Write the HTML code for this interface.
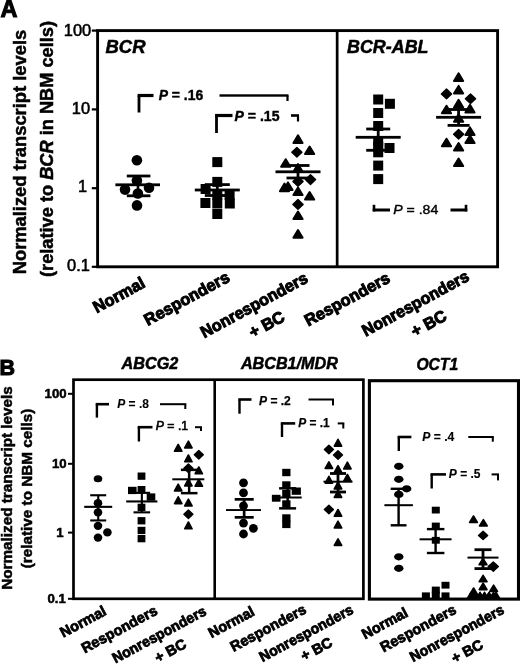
<!DOCTYPE html>
<html><head><meta charset="utf-8"><title>Figure</title>
<style>
html,body{margin:0;padding:0;background:#fff;}
svg{display:block;font-family:"Liberation Sans",Arial,sans-serif;fill:#000;}
</style></head><body>
<svg width="520" height="666" viewBox="0 0 520 666">
<rect x="0" y="0" width="520" height="666" fill="#fff"/>
<text x="0.5" y="17.3" font-size="23.5" font-weight="bold" font-style="normal" text-anchor="start" stroke="#000" stroke-width="1.0">A</text>
<rect x="97.6" y="30.6" width="400.0" height="236.20000000000002" fill="none" stroke="#000" stroke-width="2.9"/>
<rect x="335.8" y="30.6" width="2.7" height="236.2"/>
<rect x="91.8" y="29.5" width="5.7" height="2.2"/>
<rect x="91.8" y="108.3" width="5.7" height="2.2"/>
<rect x="91.8" y="187.1" width="5.7" height="2.2"/>
<rect x="91.8" y="265.7" width="5.7" height="2.2"/>
<text x="91.2" y="35.6" font-size="16.4" font-weight="normal" font-style="normal" text-anchor="end" stroke="#000" stroke-width="0.55">100</text>
<text x="90.0" y="113.5" font-size="16.4" font-weight="normal" font-style="normal" text-anchor="end" stroke="#000" stroke-width="0.55">10</text>
<text x="87.0" y="192.4" font-size="16.4" font-weight="normal" font-style="normal" text-anchor="end" stroke="#000" stroke-width="0.55">1</text>
<text x="89.9" y="271.3" font-size="16.4" font-weight="normal" font-style="normal" text-anchor="end" stroke="#000" stroke-width="0.55">0.1</text>
<text x="26.0" y="274.3" font-size="17.8" font-weight="bold" font-style="normal" text-anchor="start" stroke="#000" stroke-width="0.5" transform="rotate(-90 26.0 274.3)" textLength="244.5" lengthAdjust="spacingAndGlyphs">Normalized transcript levels</text>
<text x="53" y="277" font-size="17.8" font-weight="bold" stroke="#000" stroke-width="0.5" textLength="256" lengthAdjust="spacingAndGlyphs" transform="rotate(-90 53 277)">(relative to <tspan font-style="italic">BCR</tspan> in NBM cells)</text>
<text x="105.5" y="53.4" font-size="17.8" font-weight="bold" font-style="italic" text-anchor="start" stroke="#000" stroke-width="0.5" textLength="40" lengthAdjust="spacingAndGlyphs">BCR</text>
<text x="347.0" y="53.4" font-size="17.8" font-weight="bold" font-style="italic" text-anchor="start" stroke="#000" stroke-width="0.5" textLength="81.5" lengthAdjust="spacingAndGlyphs">BCR-ABL</text>
<rect x="137.6" y="95.5" width="2.8" height="17.0"/>
<rect x="137.6" y="93.9" width="15.9" height="3.2"/>
<text x="158.7" y="100.3" font-size="14" font-weight="bold" stroke="#000" stroke-width="0.4" textLength="44.5" lengthAdjust="spacingAndGlyphs"><tspan font-style="italic">P</tspan> = .16</text>
<rect x="219.5" y="94.3" width="69.0" height="2.4"/>
<rect x="286.4" y="95.5" width="2.2" height="5.5"/>
<rect x="215.1" y="115.5" width="2.8" height="17.5"/>
<rect x="215.1" y="113.9" width="17.4" height="3.2"/>
<text x="234.5" y="121.1" font-size="14" font-weight="bold" stroke="#000" stroke-width="0.4" textLength="45" lengthAdjust="spacingAndGlyphs"><tspan font-style="italic">P</tspan> = .15</text>
<rect x="291.0" y="114.2" width="8.0" height="2.6"/>
<rect x="296.9" y="115.5" width="2.2" height="6.0"/>
<rect x="372.7" y="204.8" width="2.6" height="6.6"/>
<rect x="372.7" y="208.5" width="17.3" height="3.0"/>
<text x="393.3" y="214.0" font-size="13.2" font-weight="normal" stroke="#000" stroke-width="0.4" textLength="45" lengthAdjust="spacingAndGlyphs"><tspan font-style="italic">P</tspan> = .84</text>
<rect x="450.5" y="208.5" width="16.8" height="3.0"/>
<rect x="464.7" y="204.8" width="2.6" height="6.6"/>
<ellipse cx="136.9" cy="160.2" rx="5.3" ry="5.3"/>
<ellipse cx="136.9" cy="180.4" rx="5.3" ry="5.3"/>
<ellipse cx="125.0" cy="189.6" rx="5.3" ry="5.3"/>
<ellipse cx="149.0" cy="187.7" rx="5.3" ry="5.3"/>
<ellipse cx="137.9" cy="193.5" rx="5.3" ry="5.3"/>
<ellipse cx="137.0" cy="205.4" rx="5.3" ry="5.3"/>
<rect x="115.4" y="183.4" width="44.6" height="2.8"/>
<rect x="126.8" y="174.6" width="23.6" height="2.8"/>
<rect x="126.8" y="194.4" width="23.6" height="2.8"/>
<rect x="136.7" y="176.0" width="2.6" height="19.8"/>
<rect x="212.3" y="157.1" width="10" height="10"/>
<rect x="212.3" y="176.9" width="10" height="10"/>
<rect x="200.6" y="184.0" width="10" height="10"/>
<rect x="212.3" y="189.8" width="10" height="10"/>
<rect x="224.6" y="189.8" width="10" height="10"/>
<rect x="200.4" y="198.0" width="10" height="10"/>
<rect x="212.3" y="198.5" width="10" height="10"/>
<rect x="224.8" y="198.5" width="10" height="10"/>
<rect x="212.3" y="209.0" width="10" height="10"/>
<rect x="194.8" y="188.6" width="45.0" height="2.8"/>
<rect x="204.8" y="183.2" width="25.0" height="2.8"/>
<rect x="204.8" y="194.1" width="25.0" height="2.8"/>
<rect x="215.9" y="184.6" width="2.8" height="10.9"/>
<path d="M298.0 135.3 L302.6 142.9 L293.4 142.9Z" stroke="#000" stroke-width="2.0" stroke-linejoin="round"/>
<path d="M309.6 146.5 L314.2 154.1 L305.0 154.1Z" stroke="#000" stroke-width="2.0" stroke-linejoin="round"/>
<path d="M285.7 159.2 L290.3 166.8 L281.1 166.8Z" stroke="#000" stroke-width="2.0" stroke-linejoin="round"/>
<path d="M298.0 164.1 L302.6 171.7 L293.4 171.7Z" stroke="#000" stroke-width="2.0" stroke-linejoin="round"/>
<path d="M284.5 183.6 L289.1 191.2 L279.9 191.2Z" stroke="#000" stroke-width="2.0" stroke-linejoin="round"/>
<path d="M288.0 182.4 L292.6 190.0 L283.4 190.0Z" stroke="#000" stroke-width="2.0" stroke-linejoin="round"/>
<path d="M298.0 187.5 L302.6 195.1 L293.4 195.1Z" stroke="#000" stroke-width="2.0" stroke-linejoin="round"/>
<path d="M309.6 192.0 L314.2 199.6 L305.0 199.6Z" stroke="#000" stroke-width="2.0" stroke-linejoin="round"/>
<path d="M298.0 211.5 L302.6 219.1 L293.4 219.1Z" stroke="#000" stroke-width="2.0" stroke-linejoin="round"/>
<path d="M298.0 230.1 L302.6 237.7 L293.4 237.7Z" stroke="#000" stroke-width="2.0" stroke-linejoin="round"/>
<path d="M296.9 147.4 L301.9 152.2 L296.9 157.0 L291.8 152.2Z" stroke="#000" stroke-width="1.4" stroke-linejoin="round"/>
<path d="M310.5 174.8 L315.6 179.6 L310.5 184.4 L305.4 179.6Z" stroke="#000" stroke-width="1.4" stroke-linejoin="round"/>
<path d="M298.0 199.6 L303.1 204.4 L298.0 209.2 L292.9 204.4Z" stroke="#000" stroke-width="1.4" stroke-linejoin="round"/>
<path d="M298.0 176.7 L303.1 181.5 L298.0 186.3 L292.9 181.5Z" stroke="#000" stroke-width="1.4" stroke-linejoin="round"/>
<rect x="275.5" y="170.4" width="45.0" height="2.8"/>
<rect x="286.5" y="164.1" width="23.0" height="2.8"/>
<rect x="286.5" y="176.6" width="23.0" height="2.8"/>
<rect x="296.6" y="165.5" width="2.8" height="12.5"/>
<rect x="373.2" y="94.5" width="10" height="10"/>
<rect x="384.9" y="98.8" width="10" height="10"/>
<rect x="373.2" y="108.0" width="10" height="10"/>
<rect x="373.2" y="121.0" width="10" height="10"/>
<rect x="373.2" y="136.2" width="10" height="10"/>
<rect x="373.2" y="142.0" width="10" height="10"/>
<rect x="373.2" y="147.3" width="10" height="10"/>
<rect x="384.5" y="143.0" width="10" height="10"/>
<rect x="373.2" y="160.6" width="10" height="10"/>
<rect x="373.2" y="174.1" width="10" height="10"/>
<rect x="355.7" y="135.9" width="45.0" height="2.8"/>
<rect x="366.2" y="127.6" width="24.0" height="2.8"/>
<rect x="366.2" y="148.9" width="24.0" height="2.8"/>
<rect x="376.8" y="129.0" width="2.8" height="21.3"/>
<path d="M458.6 73.3 L463.2 80.9 L454.0 80.9Z" stroke="#000" stroke-width="2.0" stroke-linejoin="round"/>
<path d="M458.6 85.9 L463.2 93.5 L454.0 93.5Z" stroke="#000" stroke-width="2.0" stroke-linejoin="round"/>
<path d="M458.6 99.8 L463.2 107.4 L454.0 107.4Z" stroke="#000" stroke-width="2.0" stroke-linejoin="round"/>
<path d="M446.5 105.7 L451.1 113.3 L441.9 113.3Z" stroke="#000" stroke-width="2.0" stroke-linejoin="round"/>
<path d="M470.0 104.8 L474.6 112.4 L465.4 112.4Z" stroke="#000" stroke-width="2.0" stroke-linejoin="round"/>
<path d="M458.6 114.2 L463.2 121.8 L454.0 121.8Z" stroke="#000" stroke-width="2.0" stroke-linejoin="round"/>
<path d="M470.0 127.4 L474.6 135.0 L465.4 135.0Z" stroke="#000" stroke-width="2.0" stroke-linejoin="round"/>
<path d="M470.0 135.5 L474.6 143.1 L465.4 143.1Z" stroke="#000" stroke-width="2.0" stroke-linejoin="round"/>
<path d="M446.5 138.7 L451.1 146.3 L441.9 146.3Z" stroke="#000" stroke-width="2.0" stroke-linejoin="round"/>
<path d="M458.6 143.0 L463.2 150.6 L454.0 150.6Z" stroke="#000" stroke-width="2.0" stroke-linejoin="round"/>
<path d="M458.6 158.5 L463.2 166.1 L454.0 166.1Z" stroke="#000" stroke-width="2.0" stroke-linejoin="round"/>
<path d="M446.5 89.1 L451.6 93.9 L446.5 98.7 L441.4 93.9Z" stroke="#000" stroke-width="1.4" stroke-linejoin="round"/>
<path d="M470.5 93.9 L475.6 98.7 L470.5 103.5 L465.4 98.7Z" stroke="#000" stroke-width="1.4" stroke-linejoin="round"/>
<path d="M458.6 129.4 L463.7 134.2 L458.6 139.0 L453.6 134.2Z" stroke="#000" stroke-width="1.4" stroke-linejoin="round"/>
<rect x="436.1" y="115.9" width="45.0" height="2.8"/>
<rect x="447.6" y="108.1" width="22.0" height="2.8"/>
<rect x="447.6" y="124.0" width="22.0" height="2.8"/>
<rect x="457.2" y="109.5" width="2.8" height="15.9"/>
<text x="146.4" y="286.4" font-size="16.4" font-weight="bold" font-style="normal" text-anchor="end" stroke="#000" stroke-width="1.0" transform="rotate(-28.5 146.4 286.4)">Normal</text>
<text x="231.0" y="280.7" font-size="16.4" font-weight="bold" font-style="normal" text-anchor="end" stroke="#000" stroke-width="1.0" transform="rotate(-28.5 231.0 280.7)">Responders</text>
<text x="309.1" y="281.4" font-size="16.4" font-weight="bold" font-style="normal" text-anchor="end" stroke="#000" stroke-width="1.0" transform="rotate(-28.5 309.1 281.4)" textLength="119.2" lengthAdjust="spacingAndGlyphs">Nonresponders</text>
<text x="286.0" y="320.3" font-size="16.4" font-weight="bold" font-style="normal" text-anchor="end" stroke="#000" stroke-width="1.0" transform="rotate(-28.5 286.0 320.3)">+ BC</text>
<text x="391.4" y="281.4" font-size="16.4" font-weight="bold" font-style="normal" text-anchor="end" stroke="#000" stroke-width="1.0" transform="rotate(-28.5 391.4 281.4)">Responders</text>
<text x="470.5" y="279.8" font-size="16.4" font-weight="bold" font-style="normal" text-anchor="end" stroke="#000" stroke-width="1.0" transform="rotate(-28.5 470.5 279.8)" textLength="119.2" lengthAdjust="spacingAndGlyphs">Nonresponders</text>
<text x="448.0" y="319.3" font-size="16.4" font-weight="bold" font-style="normal" text-anchor="end" stroke="#000" stroke-width="1.0" transform="rotate(-28.5 448.0 319.3)">+ BC</text>
<text x="-0.5" y="375.0" font-size="21.5" font-weight="bold" font-style="normal" text-anchor="start" stroke="#000" stroke-width="1.0">B</text>
<rect x="73.5" y="379.7" width="289.9" height="219.09999999999997" fill="none" stroke="#000" stroke-width="2.7"/>
<rect x="213.4" y="379.7" width="2.6" height="219.1"/>
<rect x="369.4" y="380.7" width="149.10000000000002" height="218.40000000000003" fill="none" stroke="#000" stroke-width="3.1"/>
<rect x="68.0" y="392.8" width="5.5" height="2"/>
<text x="66.6" y="397.8" font-size="13.2" font-weight="bold" font-style="normal" text-anchor="end" stroke="#000" stroke-width="0.5">100</text>
<rect x="68.0" y="462.8" width="5.5" height="2"/>
<text x="66.6" y="467.8" font-size="13.2" font-weight="bold" font-style="normal" text-anchor="end" stroke="#000" stroke-width="0.5">10</text>
<rect x="68.0" y="531.6" width="5.5" height="2"/>
<text x="63.5" y="536.6" font-size="13.2" font-weight="bold" font-style="normal" text-anchor="end" stroke="#000" stroke-width="0.5">1</text>
<rect x="68.0" y="597.8" width="5.5" height="2"/>
<text x="65.8" y="602.8" font-size="13.2" font-weight="bold" font-style="normal" text-anchor="end" stroke="#000" stroke-width="0.5">0.1</text>
<text x="12.0" y="589.8" font-size="15.0" font-weight="bold" font-style="normal" text-anchor="start" stroke="#000" stroke-width="0.5" transform="rotate(-90 12.0 589.8)" textLength="203.6" lengthAdjust="spacingAndGlyphs">Normalized transcript levels</text>
<text x="31.7" y="568.2" font-size="15.0" font-weight="bold" font-style="normal" text-anchor="start" stroke="#000" stroke-width="0.5" transform="rotate(-90 31.7 568.2)" textLength="159.5" lengthAdjust="spacingAndGlyphs">(relative to NBM cells)</text>
<text x="121.5" y="368.6" font-size="16" font-weight="bold" font-style="italic" text-anchor="start" stroke="#000" stroke-width="0.5" textLength="56.8" lengthAdjust="spacingAndGlyphs">ABCG2</text>
<text x="240.9" y="369.3" font-size="16" font-weight="bold" font-style="italic" text-anchor="start" stroke="#000" stroke-width="0.5" textLength="97" lengthAdjust="spacingAndGlyphs">ABCB1/MDR</text>
<text x="416.4" y="370.0" font-size="16" font-weight="bold" font-style="italic" text-anchor="start" stroke="#000" stroke-width="0.5" textLength="41.7" lengthAdjust="spacingAndGlyphs">OCT1</text>
<rect x="95.7" y="404.2" width="2.4" height="13.4"/>
<rect x="95.7" y="402.9" width="13.3" height="2.6"/>
<text x="117.2" y="408.2" font-size="12" font-weight="bold" stroke="#000" stroke-width="0.1" textLength="31.7" lengthAdjust="spacingAndGlyphs"><tspan font-style="italic">P</tspan> = .8</text>
<rect x="160.0" y="403.2" width="26.3" height="2.0"/>
<rect x="184.3" y="404.2" width="2.0" height="4.8"/>
<rect x="137.7" y="427.2" width="2.4" height="14.3"/>
<rect x="137.7" y="425.9" width="14.8" height="2.6"/>
<text x="155.8" y="429.5" font-size="12" font-weight="normal" stroke="#000" stroke-width="0.6" textLength="32.3" lengthAdjust="spacingAndGlyphs"><tspan font-style="italic">P</tspan> = .1</text>
<rect x="195.0" y="426.2" width="7.0" height="2.0"/>
<rect x="200.0" y="427.2" width="2.0" height="3.8"/>
<rect x="238.3" y="399.5" width="2.4" height="14.2"/>
<rect x="238.3" y="398.2" width="13.2" height="2.6"/>
<text x="259.0" y="404.6" font-size="12" font-weight="bold" stroke="#000" stroke-width="0.25" textLength="31.8" lengthAdjust="spacingAndGlyphs"><tspan font-style="italic">P</tspan> = .2</text>
<rect x="308.5" y="398.5" width="25.5" height="2.0"/>
<rect x="332.0" y="399.5" width="2.0" height="5.9"/>
<rect x="280.8" y="423.4" width="2.4" height="13.6"/>
<rect x="280.8" y="422.1" width="14.4" height="2.6"/>
<text x="298.2" y="427.1" font-size="12" font-weight="bold" stroke="#000" stroke-width="0.25" textLength="31.4" lengthAdjust="spacingAndGlyphs"><tspan font-style="italic">P</tspan> = .1</text>
<rect x="337.7" y="422.4" width="6.6" height="2.0"/>
<rect x="342.3" y="423.4" width="2.0" height="5.1"/>
<rect x="397.6" y="437.0" width="2.4" height="14.0"/>
<rect x="397.6" y="435.7" width="13.8" height="2.6"/>
<text x="422.3" y="440.5" font-size="12" font-weight="bold" stroke="#000" stroke-width="0.15" textLength="32" lengthAdjust="spacingAndGlyphs"><tspan font-style="italic">P</tspan> = .4</text>
<rect x="468.3" y="436.0" width="25.5" height="2.0"/>
<rect x="491.8" y="437.0" width="2.0" height="4.7"/>
<rect x="430.5" y="474.4" width="2.4" height="14.1"/>
<rect x="430.5" y="473.1" width="15.5" height="2.6"/>
<text x="448.8" y="478.4" font-size="12" font-weight="bold" stroke="#000" stroke-width="0.15" textLength="31.7" lengthAdjust="spacingAndGlyphs"><tspan font-style="italic">P</tspan> = .5</text>
<rect x="491.6" y="473.4" width="7.4" height="2.0"/>
<rect x="497.0" y="474.4" width="2.0" height="6.0"/>
<ellipse cx="98.0" cy="478.8" rx="4.3" ry="3.5"/>
<ellipse cx="98.0" cy="503.2" rx="4.3" ry="4.1"/>
<ellipse cx="98.0" cy="512.4" rx="4.3" ry="4.1"/>
<ellipse cx="98.0" cy="525.8" rx="4.3" ry="4.1"/>
<ellipse cx="107.4" cy="532.4" rx="4.3" ry="4.1"/>
<ellipse cx="98.0" cy="537.6" rx="4.3" ry="4.1"/>
<rect x="84.2" y="505.8" width="28.0" height="2.1"/>
<rect x="90.2" y="494.2" width="16.0" height="2.1"/>
<rect x="90.2" y="519.4" width="16.0" height="2.1"/>
<rect x="97.2" y="495.3" width="2.1" height="25.1"/>
<rect x="137.6" y="472.5" width="7.8" height="7.3"/>
<rect x="137.6" y="486.0" width="7.8" height="7.3"/>
<rect x="137.6" y="503.7" width="7.8" height="7.3"/>
<rect x="137.6" y="517.1" width="7.8" height="7.3"/>
<rect x="137.6" y="526.8" width="7.8" height="7.3"/>
<rect x="137.6" y="535.0" width="7.8" height="7.3"/>
<rect x="128.0" y="486.8" width="8.6" height="7.3"/>
<rect x="146.7" y="493.4" width="8.6" height="7.3"/>
<rect x="126.2" y="500.4" width="31.2" height="2.1"/>
<rect x="133.5" y="491.8" width="16.6" height="2.1"/>
<rect x="133.5" y="511.3" width="16.6" height="2.1"/>
<rect x="140.8" y="492.8" width="2.1" height="19.6"/>
<path d="M188.4 441.1 L192.1 447.9 L184.7 447.9Z" stroke="#000" stroke-width="1.6" stroke-linejoin="round"/>
<path d="M178.2 444.4 L181.9 451.2 L174.5 451.2Z" stroke="#000" stroke-width="1.6" stroke-linejoin="round"/>
<path d="M188.4 455.0 L192.1 461.8 L184.7 461.8Z" stroke="#000" stroke-width="1.6" stroke-linejoin="round"/>
<path d="M198.8 467.0 L202.5 473.8 L195.1 473.8Z" stroke="#000" stroke-width="1.6" stroke-linejoin="round"/>
<path d="M188.4 479.1 L192.1 485.9 L184.7 485.9Z" stroke="#000" stroke-width="1.6" stroke-linejoin="round"/>
<path d="M198.8 479.4 L202.5 486.2 L195.1 486.2Z" stroke="#000" stroke-width="1.6" stroke-linejoin="round"/>
<path d="M178.2 484.1 L181.9 490.9 L174.5 490.9Z" stroke="#000" stroke-width="1.6" stroke-linejoin="round"/>
<path d="M178.2 496.8 L181.9 503.6 L174.5 503.6Z" stroke="#000" stroke-width="1.6" stroke-linejoin="round"/>
<path d="M188.4 499.2 L192.1 506.0 L184.7 506.0Z" stroke="#000" stroke-width="1.6" stroke-linejoin="round"/>
<path d="M188.4 522.0 L192.1 528.8 L184.7 528.8Z" stroke="#000" stroke-width="1.6" stroke-linejoin="round"/>
<path d="M198.8 450.5 L203.3 454.8 L198.8 459.1 L194.3 454.8Z" stroke="#000" stroke-width="1.4" stroke-linejoin="round"/>
<path d="M188.4 464.0 L192.9 468.3 L188.4 472.6 L183.9 468.3Z" stroke="#000" stroke-width="1.4" stroke-linejoin="round"/>
<path d="M188.4 509.9 L192.9 514.2 L188.4 518.5 L183.9 514.2Z" stroke="#000" stroke-width="1.4" stroke-linejoin="round"/>
<rect x="172.3" y="478.3" width="32.0" height="2"/>
<rect x="180.9" y="468.6" width="16.6" height="2.5"/>
<rect x="180.9" y="491.9" width="16.6" height="2.5"/>
<rect x="187.9" y="469.8" width="2.5" height="23.4"/>
<ellipse cx="243.5" cy="482.8" rx="4.4" ry="4.4"/>
<ellipse cx="243.5" cy="492.9" rx="4.4" ry="4.4"/>
<ellipse cx="243.5" cy="505.8" rx="4.4" ry="4.4"/>
<ellipse cx="243.5" cy="523.1" rx="4.4" ry="4.4"/>
<ellipse cx="253.4" cy="528.3" rx="4.4" ry="4.4"/>
<ellipse cx="243.5" cy="534.0" rx="4.4" ry="4.4"/>
<rect x="226.0" y="509.1" width="35.0" height="1.9"/>
<rect x="234.7" y="498.0" width="19.0" height="2.7"/>
<rect x="234.7" y="516.0" width="19.0" height="2.7"/>
<rect x="242.8" y="499.4" width="2.7" height="18.0"/>
<rect x="282.2" y="468.8" width="8.3" height="7.4"/>
<rect x="282.2" y="481.3" width="8.3" height="7.4"/>
<rect x="282.2" y="490.0" width="8.3" height="7.4"/>
<rect x="282.2" y="500.3" width="8.3" height="7.4"/>
<rect x="282.2" y="514.3" width="8.3" height="7.4"/>
<rect x="282.2" y="520.7" width="8.3" height="7.4"/>
<rect x="291.7" y="487.5" width="9.2" height="7.3"/>
<rect x="271.9" y="494.8" width="8.6" height="6.9"/>
<rect x="271.9" y="496.5" width="29.8" height="2"/>
<rect x="279.1" y="487.1" width="17.0" height="2.5"/>
<rect x="279.1" y="507.1" width="17.0" height="2.5"/>
<rect x="286.4" y="488.4" width="2.5" height="19.9"/>
<path d="M338.0 439.3 L341.7 446.1 L334.3 446.1Z" stroke="#000" stroke-width="1.6" stroke-linejoin="round"/>
<path d="M328.9 461.8 L332.6 468.5 L325.2 468.5Z" stroke="#000" stroke-width="1.6" stroke-linejoin="round"/>
<path d="M347.4 462.1 L351.1 468.9 L343.7 468.9Z" stroke="#000" stroke-width="1.6" stroke-linejoin="round"/>
<path d="M338.0 465.6 L341.7 472.4 L334.3 472.4Z" stroke="#000" stroke-width="1.6" stroke-linejoin="round"/>
<path d="M328.9 476.3 L332.6 483.1 L325.2 483.1Z" stroke="#000" stroke-width="1.6" stroke-linejoin="round"/>
<path d="M347.4 474.4 L351.1 481.2 L343.7 481.2Z" stroke="#000" stroke-width="1.6" stroke-linejoin="round"/>
<path d="M338.0 482.2 L341.7 489.0 L334.3 489.0Z" stroke="#000" stroke-width="1.6" stroke-linejoin="round"/>
<path d="M338.0 490.6 L341.7 497.4 L334.3 497.4Z" stroke="#000" stroke-width="1.6" stroke-linejoin="round"/>
<path d="M338.0 509.5 L341.7 516.2 L334.3 516.2Z" stroke="#000" stroke-width="1.6" stroke-linejoin="round"/>
<path d="M338.0 521.2 L341.7 528.0 L334.3 528.0Z" stroke="#000" stroke-width="1.6" stroke-linejoin="round"/>
<path d="M338.0 538.8 L341.7 545.5 L334.3 545.5Z" stroke="#000" stroke-width="1.6" stroke-linejoin="round"/>
<path d="M328.9 445.2 L333.4 449.5 L328.9 453.8 L324.4 449.5Z" stroke="#000" stroke-width="1.4" stroke-linejoin="round"/>
<path d="M338.0 450.7 L342.5 455.0 L338.0 459.3 L333.5 455.0Z" stroke="#000" stroke-width="1.4" stroke-linejoin="round"/>
<path d="M328.9 505.2 L333.4 509.5 L328.9 513.8 L324.4 509.5Z" stroke="#000" stroke-width="1.4" stroke-linejoin="round"/>
<rect x="323.5" y="480.7" width="29.0" height="2"/>
<rect x="330.0" y="472.1" width="16.0" height="2.8"/>
<rect x="330.0" y="490.6" width="16.0" height="2.8"/>
<rect x="336.6" y="473.5" width="2.8" height="18.5"/>
<ellipse cx="398.8" cy="466.3" rx="4.7" ry="3.6"/>
<ellipse cx="398.8" cy="479.3" rx="4.7" ry="3.6"/>
<ellipse cx="406.7" cy="488.8" rx="4.7" ry="3.6"/>
<ellipse cx="398.8" cy="494.4" rx="4.7" ry="3.6"/>
<ellipse cx="398.8" cy="556.8" rx="4.7" ry="3.6"/>
<ellipse cx="398.8" cy="568.3" rx="4.7" ry="3.6"/>
<rect x="384.4" y="504.2" width="28.5" height="2"/>
<rect x="390.7" y="487.6" width="15.8" height="2.4"/>
<rect x="390.7" y="524.1" width="15.8" height="2.4"/>
<rect x="397.4" y="488.8" width="2.4" height="36.5"/>
<rect x="431.8" y="506.7" width="8" height="6.8"/>
<rect x="431.8" y="522.6" width="8" height="6.8"/>
<rect x="431.8" y="536.9" width="8" height="6.8"/>
<rect x="441.5" y="581.8" width="8" height="6.8"/>
<rect x="431.8" y="586.6" width="8" height="6.8"/>
<rect x="431.8" y="591.6" width="8" height="6.8"/>
<rect x="421.9" y="592.4" width="8" height="6.8"/>
<rect x="441.5" y="592.4" width="8" height="6.8"/>
<rect x="419.6" y="538.3" width="32.0" height="2"/>
<rect x="426.9" y="527.9" width="17.5" height="2.4"/>
<rect x="426.9" y="551.8" width="17.5" height="2.4"/>
<rect x="434.4" y="529.1" width="2.4" height="23.9"/>
<path d="M473.5 516.0 L477.4 522.4 L469.6 522.4Z" stroke="#000" stroke-width="1.6" stroke-linejoin="round"/>
<path d="M483.4 519.6 L487.2 526.0 L479.5 526.0Z" stroke="#000" stroke-width="1.6" stroke-linejoin="round"/>
<path d="M483.0 558.3 L486.9 564.7 L479.1 564.7Z" stroke="#000" stroke-width="1.6" stroke-linejoin="round"/>
<path d="M483.1 575.3 L487.0 581.7 L479.2 581.7Z" stroke="#000" stroke-width="1.6" stroke-linejoin="round"/>
<path d="M483.1 583.2 L487.0 589.6 L479.2 589.6Z" stroke="#000" stroke-width="1.6" stroke-linejoin="round"/>
<path d="M473.6 588.0 L477.5 594.4 L469.8 594.4Z" stroke="#000" stroke-width="1.6" stroke-linejoin="round"/>
<path d="M493.6 585.1 L497.5 591.5 L489.8 591.5Z" stroke="#000" stroke-width="1.6" stroke-linejoin="round"/>
<path d="M471.0 592.3 L474.9 598.7 L467.1 598.7Z" stroke="#000" stroke-width="1.6" stroke-linejoin="round"/>
<path d="M475.5 592.3 L479.4 598.7 L471.6 598.7Z" stroke="#000" stroke-width="1.6" stroke-linejoin="round"/>
<path d="M480.0 592.3 L483.9 598.7 L476.1 598.7Z" stroke="#000" stroke-width="1.6" stroke-linejoin="round"/>
<path d="M484.5 592.3 L488.4 598.7 L480.6 598.7Z" stroke="#000" stroke-width="1.6" stroke-linejoin="round"/>
<path d="M489.0 592.3 L492.9 598.7 L485.1 598.7Z" stroke="#000" stroke-width="1.6" stroke-linejoin="round"/>
<path d="M493.5 592.3 L497.4 598.7 L489.6 598.7Z" stroke="#000" stroke-width="1.6" stroke-linejoin="round"/>
<path d="M496.0 592.3 L499.9 598.7 L492.1 598.7Z" stroke="#000" stroke-width="1.6" stroke-linejoin="round"/>
<path d="M483.1 531.2 L487.7 535.4 L483.1 539.6 L478.5 535.4Z" stroke="#000" stroke-width="1.4" stroke-linejoin="round"/>
<path d="M493.3 562.0 L498.4 566.6 L493.3 571.2 L488.2 566.6Z" stroke="#000" stroke-width="1.4" stroke-linejoin="round"/>
<rect x="467.5" y="556.6" width="31.0" height="2"/>
<rect x="474.5" y="548.3" width="17.0" height="2.8"/>
<rect x="474.5" y="567.2" width="17.0" height="2.8"/>
<rect x="481.6" y="549.7" width="2.8" height="18.9"/>
<text x="107.4" y="614.2" font-size="14.5" font-weight="bold" font-style="normal" text-anchor="end" stroke="#000" stroke-width="0.8" transform="rotate(-28.2 107.4 614.2)">Normal</text>
<text x="158.5" y="613.8" font-size="14.5" font-weight="bold" font-style="normal" text-anchor="end" stroke="#000" stroke-width="0.8" transform="rotate(-28.2 158.5 613.8)">Responders</text>
<text x="207.5" y="614.2" font-size="14.5" font-weight="bold" font-style="normal" text-anchor="end" stroke="#000" stroke-width="0.8" transform="rotate(-28.2 207.5 614.2)" textLength="104.5" lengthAdjust="spacingAndGlyphs">Nonresponders</text>
<text x="187.5" y="647.1" font-size="14.5" font-weight="bold" font-style="normal" text-anchor="end" stroke="#000" stroke-width="0.8" transform="rotate(-28.2 187.5 647.1)">+ BC</text>
<text x="255.6" y="614.7" font-size="14.5" font-weight="bold" font-style="normal" text-anchor="end" stroke="#000" stroke-width="0.8" transform="rotate(-28.2 255.6 614.7)">Normal</text>
<text x="307.4" y="612.4" font-size="14.5" font-weight="bold" font-style="normal" text-anchor="end" stroke="#000" stroke-width="0.8" transform="rotate(-28.2 307.4 612.4)">Responders</text>
<text x="354.5" y="612.8" font-size="14.5" font-weight="bold" font-style="normal" text-anchor="end" stroke="#000" stroke-width="0.8" transform="rotate(-28.2 354.5 612.8)" textLength="104.5" lengthAdjust="spacingAndGlyphs">Nonresponders</text>
<text x="333.6" y="645.5" font-size="14.5" font-weight="bold" font-style="normal" text-anchor="end" stroke="#000" stroke-width="0.8" transform="rotate(-28.2 333.6 645.5)">+ BC</text>
<text x="409.0" y="615.8" font-size="14.5" font-weight="bold" font-style="normal" text-anchor="end" stroke="#000" stroke-width="0.8" transform="rotate(-28.2 409.0 615.8)">Normal</text>
<text x="457.4" y="612.8" font-size="14.5" font-weight="bold" font-style="normal" text-anchor="end" stroke="#000" stroke-width="0.8" transform="rotate(-28.2 457.4 612.8)">Responders</text>
<text x="505.2" y="612.8" font-size="14.5" font-weight="bold" font-style="normal" text-anchor="end" stroke="#000" stroke-width="0.8" transform="rotate(-28.2 505.2 612.8)" textLength="104.5" lengthAdjust="spacingAndGlyphs">Nonresponders</text>
<text x="484.2" y="647.7" font-size="14.5" font-weight="bold" font-style="normal" text-anchor="end" stroke="#000" stroke-width="0.8" transform="rotate(-28.2 484.2 647.7)">+ BC</text>
</svg>
</body></html>
